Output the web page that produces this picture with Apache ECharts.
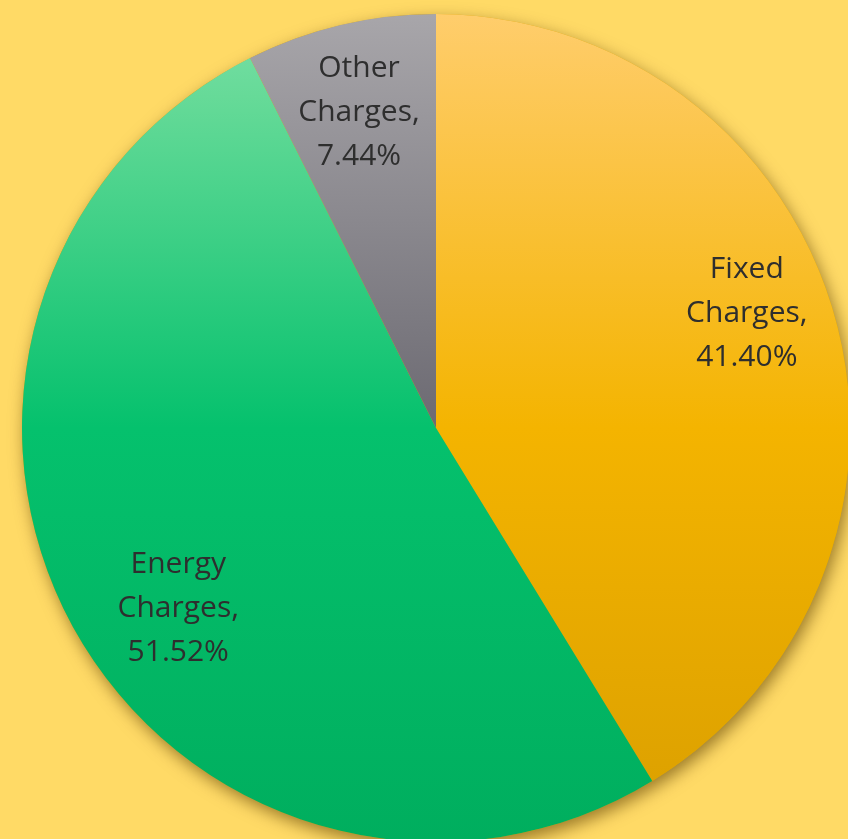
<!DOCTYPE html>
<html><head><meta charset="utf-8">
<script src="https://cdn.jsdelivr.net/npm/echarts@6/dist/echarts.min.js"></script>
<style>html,body{margin:0;padding:0;background:#FFDA66;}#c{width:848px;height:839px;}</style>
</head><body><div id="c"></div>
<script>
const categories = ["Fixed Charges", "Energy Charges", "Other Charges"];
const values = [41.40, 51.52, 7.44];
const labelTexts = ["Fixed\nCharges,\n41.40%", "Energy\nCharges,\n51.52%", "Other\nCharges,\n7.44%"];

const cx = 436, cy = 428, R = 414;
function grad(stops){
  return {type:'linear', x:0, y:cy-R, x2:0, y2:cy+R, global:true,
    colorStops: stops.map(s=>({offset:s[0], color:s[1]}))};
}
const colors = [
  grad([[0,'#FFCD6C'],[0.5,'#F4B400'],[1,'#DA9F00']]),
  grad([[0,'#7AE0A8'],[0.1,'#66DA98'],[0.5,'#05C16D'],[1,'#00AE5E']]),
  grad([[0,'#A8A6AA'],[0.5,'#6C6A72'],[1,'#6C6A72']])
];
// label placement: fraction of radius and angle (deg clockwise from top)
const labelPlace = [[0.80, 69.8], [0.76, 235.0], [0.785, 346.3]];
const total = values.reduce((a,b)=>a+b,0);

const chart = echarts.init(document.getElementById('c'), null, {renderer:'canvas'});
chart.setOption({
  backgroundColor:'#FFDA66',
  animation:false,
  series:[{
    type:'pie', silent:true, z:1,
    center:[cx, cy], radius:[0, R],
    label:{show:false}, labelLine:{show:false},
    itemStyle:{color:'#E0A800', shadowBlur:16, shadowOffsetX:3, shadowOffsetY:6, shadowColor:'rgba(90,60,0,0.6)'},
    data:[{name:'bg', value: total}]
  },{
    type:'pie', z:2,
    center:[cx, cy],
    radius:[0, R],
    startAngle:90,
    clockwise:true,
    avoidLabelOverlap:false,
    itemStyle:{borderWidth:0},
    label:{
      show:true, position:'inside',
      formatter:p=>labelTexts[p.dataIndex],
      color:'#2E2E2E', fontSize:30, lineHeight:44,
      fontFamily:'"Open Sans", sans-serif', align:'center'
    },
    labelLine:{show:false},
    labelLayout:function(p){
      const lp = labelPlace[p.dataIndex];
      const a = lp[1]*Math.PI/180;
      return {x: cx + R*lp[0]*Math.sin(a), y: cy - R*lp[0]*Math.cos(a), align:'center', verticalAlign:'middle'};
    },
    data: categories.map((c,i)=>({name:c, value:values[i], itemStyle:{color:colors[i]}}))
  }]
});
</script></body></html>
